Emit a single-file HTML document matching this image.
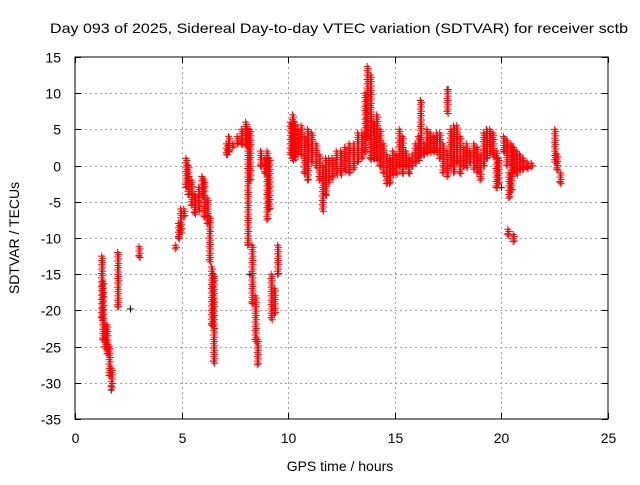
<!DOCTYPE html>
<html><head><meta charset="utf-8"><style>
body{margin:0;background:#fff;}
svg text{font-family:"Liberation Sans",sans-serif;font-size:14px;fill:#000;}
</style></head><body>
<svg id="chart" width="640" height="480" xmlns="http://www.w3.org/2000/svg">
<rect width="640" height="480" fill="#fff"/>
<text x="339" y="33" text-anchor="middle" textLength="578" lengthAdjust="spacingAndGlyphs">Day 093 of 2025, Sidereal Day-to-day VTEC variation (SDTVAR) for receiver sctb</text>
<text x="340" y="471" text-anchor="middle">GPS time / hours</text>
<text transform="translate(19,238) rotate(-90)" text-anchor="middle">SDTVAR / TECUs</text>
<g id="grid"></g>
<g id="marks"></g>
<rect x="75" y="57" width="533" height="362" fill="none" stroke="#000" stroke-width="1"/>
<g id="ticks"></g>
</svg>
<script>
const xTicks=[0,5,10,15,20,25];
const yTicks=[15,10,5,0,-5,-10,-15,-20,-25,-30,-35];
const rangeT=[1.25,1.3,1.4,1.5,1.6,1.7,2.0,3.0,4.7,4.85,4.95,5.1,5.2,5.3,5.45,5.6,5.8,5.95,6.05,6.2,6.3,6.4,6.5,7.1,7.2,7.4,7.6,7.8,8.0,8.1,8.2,8.3,8.45,8.55,8.7,8.9,9.0,9.1,9.2,9.35,9.5,
10.1,10.2,10.3,10.45,10.6,10.75,10.9,11.1,11.3,11.45,11.6,11.75,11.9,12.05,12.25,12.45,12.65,12.85,13.05,13.25,13.45,13.6,13.7,13.85,14.0,14.15,14.3,14.45,14.6,14.75,14.9,15.05,15.2,15.35,15.5,15.65,15.8,15.95,16.1,16.2,16.35,16.5,16.65,16.8,16.95,17.1,17.25,17.45,17.45,17.6,17.75,17.9,18.05,18.2,18.35,18.5,18.7,18.85,19.0,19.15,19.3,19.45,19.6,19.75,19.85,20.1,20.25,20.35,20.45,20.55,20.7,20.85,21.0,21.2,21.4,20.3,20.55,22.5,22.6,22.75];
const rangeHi=[-12.5,-16,-22,-22,-25,-28,-12,-11.2,-11,-8,-6,-6,1,0,-2,-4,-3,-1.5,-2,-4.5,-7,-14,-15,3,4,3,4,5,6,5,5,-11,-18,-24,2,1,2,1,-15,-17,-11,
6,7,6,5,5.5,4,5,4.5,3,1.5,0,1,1,1,2,2,2.5,3,3,4.5,4.5,10,13.7,12.5,6,7,5,3,1.5,1,2,1.5,5,4,2,1,1.5,3,4,9,3,5,4.5,4,4.5,4.5,3,10.5,2,5,5.5,5.5,4,2.5,3,2,3,2.5,1.5,4.5,5,5,4.5,2,1,4,3.5,-1,3,2.5,2,1.5,1,0.5,0.3,-8.8,-9.5,5,1.5,-1];
const rangeLo=[-21,-24,-25,-26,-29,-30.5,-19.5,-12.5,-11.5,-10,-9,-7,-3,-4,-5.5,-6.5,-6,-4,-7,-8,-13,-22,-27,1.5,2,2.5,3,3,3,-11,-2,-19,-24,-27.5,0,-1,-7.5,-6,-21,-20.5,-15,
1.5,1,1.2,1.5,1.5,-1,-2,0.5,0,-2,-6,-4,-2,-1.5,-1,-1,-0.5,-1,-0.5,0.5,1,2,4,1,1,1,0,-1,-2.5,-2.5,-1,-1,0,-1,0,-1,0,0.5,1,1.5,1.5,2,2,2,2,1,-1,7.5,-1.5,0,-1,0.5,-1,0,0,0.5,-0.5,-1,-2,0,1,2,1.5,-3,-2.5,2,0,-4.5,-3.5,-1,-1,-0.5,-0.5,-0.3,-0.2,-9.5,-10.5,0.5,-0.5,-2.3];
const blackT=[2.6,1.7,6.5,8.2,20.0,17.5,16.2];
const blackV=[-19.8,-31,-27,-15,-3,10.5,9];
const NS="http://www.w3.org/2000/svg";
const X0=75,X1=608,Y0=57,Y1=419;
function sx(t){return X0+(t-0)/(25-0)*(X1-X0);}
function sy(v){return Y1-(v+35)/(15+35)*(Y1-Y0);}
const grid=document.getElementById('grid'),ticks=document.getElementById('ticks'),marks=document.getElementById('marks');
function line(p,x1,y1,x2,y2,st,dash){const l=document.createElementNS(NS,'line');l.setAttribute('x1',x1);l.setAttribute('y1',y1);l.setAttribute('x2',x2);l.setAttribute('y2',y2);l.setAttribute('stroke',st);if(dash)l.setAttribute('stroke-dasharray',dash);p.appendChild(l);return l;}
xTicks.forEach(t=>{const x=Math.round(sx(t))+0.5;
 if(t>0&&t<25){const g=line(grid,x,Y0,x,Y1,'#a0a0a0','2,3');
 
 }
 line(ticks,x,Y1,x,Y1-6,'#000');line(ticks,x,Y0,x,Y0+6,'#000');
 const tx=document.createElementNS(NS,'text');tx.setAttribute('x',x);tx.setAttribute('y',443);tx.setAttribute('text-anchor','middle');tx.textContent=t;
 
 
 ticks.appendChild(tx);});
yTicks.forEach(v=>{const y=Math.round(sy(v))+0.5;
 if(v<15&&v>-35){const g=line(grid,X0,y,X1,y,'#a0a0a0','2,3');
 
 }
 line(ticks,X0,y,X0+6,y,'#000');line(ticks,X1,y,X1-6,y,'#000');
 const tx=document.createElementNS(NS,'text');tx.setAttribute('x',61);tx.setAttribute('y',y+5);tx.setAttribute('text-anchor','end');tx.textContent=v;
 
 
 ticks.appendChild(tx);});
function plus(t,v,col){const x=sx(t),y=sy(v);const p=document.createElementNS(NS,'path');
 p.setAttribute('d',`M${x-3.5},${y}h7M${x},${y-3.5}v7`);p.setAttribute('stroke',col);p.setAttribute('stroke-width','1');
 
 
 marks.appendChild(p);}
blackT.forEach((t,i)=>plus(t,blackV[i],'#000'));
rangeT.forEach((t,i)=>{const hi=rangeHi[i],lo=rangeLo[i];
 for(let v=hi;v>=lo-0.01;v-=0.6){plus(t,v,'#ff0000');plus(t+0.05,v-0.3,'#ff0000');}
 plus(t,lo,'#ff0000');});
</script>
</body></html>
